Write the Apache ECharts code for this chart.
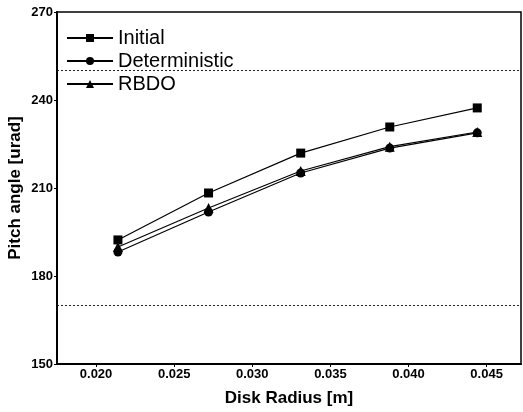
<!DOCTYPE html>
<html>
<head>
<meta charset="utf-8">
<script src="https://cdn.jsdelivr.net/npm/echarts@6/dist/echarts.min.js"></script>
<style>
  html, body { margin: 0; padding: 0; background: #fff; }
  #chart { width: 523px; height: 412px; }
</style>
</head>
<body>
<div id="chart"></div>
<script>
// disk radius [m]
const radius = [0.0214, 0.0272, 0.0331, 0.0388, 0.0444]
// pitch angle [urad]
const initial = [192.3, 208.3, 221.9, 230.8, 237.3]
const deterministic = [188.2, 201.8, 215.1, 223.6, 228.8]
const rbdo = [189.9, 203.2, 215.8, 224.1, 229.1]
// constraint limits
const limits = [250, 170]
const xTicks = [0.020, 0.025, 0.030, 0.035, 0.040, 0.045]

function pairs(ys) {
  let data = []
  for (let i = 0; i < radius.length; ++i) {
    data.push([radius[i], ys[i]])
  }
  return data
}

const font = 'Arial, "Liberation Sans", sans-serif'

function lineSeries(name, ys, symbol, size) {
  return {
    name: name,
    type: 'line',
    data: pairs(ys),
    symbol: symbol,
    symbolSize: size,
    lineStyle: { color: '#000', width: 1.2 },
    itemStyle: { color: '#000' },
    z: 3
  }
}

let series = [
  lineSeries('Initial', initial, 'rect', 9),
  lineSeries('Deterministic', deterministic, 'circle', 9),
  lineSeries('RBDO', rbdo, 'triangle', 10)
]
series[0].markLine = {
  silent: true,
  symbol: 'none',
  label: { show: false },
  lineStyle: { color: '#222', type: [2, 2], width: 1 },
  data: limits.map(v => ({ yAxis: v }))
}

let chart = echarts.init(document.getElementById('chart'))
chart.setOption({
  animation: false,
  grid: { left: 57, top: 12, right: 2, bottom: 48, containLabel: false, outerBoundsMode: 'none' },
  legend: {
    orient: 'vertical',
    left: 61,
    top: 23,
    itemWidth: 46,
    itemHeight: 10,
    itemGap: 3,
    textStyle: { fontFamily: font, fontSize: 20, color: '#000' },
    data: ['Initial', 'Deterministic', 'RBDO']
  },
  xAxis: {
    type: 'value',
    min: 0.0175,
    max: 0.0472,
    name: 'Disk Radius [m]',
    nameLocation: 'middle',
    nameGap: 26,
    nameMoveOverlap: false,
    nameTextStyle: { fontFamily: font, fontSize: 17, fontWeight: 'bold', color: '#000' },
    axisLine: { lineStyle: { color: '#000', width: 2 } },
    axisTick: { show: true, customValues: xTicks, length: 3, lineStyle: { color: '#000' } },
    axisLabel: {
      customValues: xTicks,
      formatter: v => v.toFixed(3),
      fontFamily: font, fontSize: 13, fontWeight: 'bold', color: '#000', margin: 4
    },
    splitLine: { show: false }
  },
  yAxis: {
    type: 'value',
    min: 150,
    max: 270,
    interval: 30,
    name: 'Pitch angle [urad]',
    nameLocation: 'middle',
    nameGap: 33,
    nameMoveOverlap: false,
    nameTextStyle: { fontFamily: font, fontSize: 17, fontWeight: 'bold', color: '#000' },
    axisLine: { show: true, lineStyle: { color: '#000', width: 2 } },
    axisTick: { show: true, length: 3, lineStyle: { color: '#000' } },
    axisLabel: { fontFamily: font, fontSize: 13, fontWeight: 'bold', color: '#000', margin: 4 },
    splitLine: { show: false }
  },
  graphic: [{
    type: 'rect',
    shape: { x: 57, y: 12, width: 464, height: 352 },
    style: { fill: 'none', stroke: '#000', lineWidth: 1.5 },
    silent: true
  }],
  series: series
})
</script>
</body>
</html>
